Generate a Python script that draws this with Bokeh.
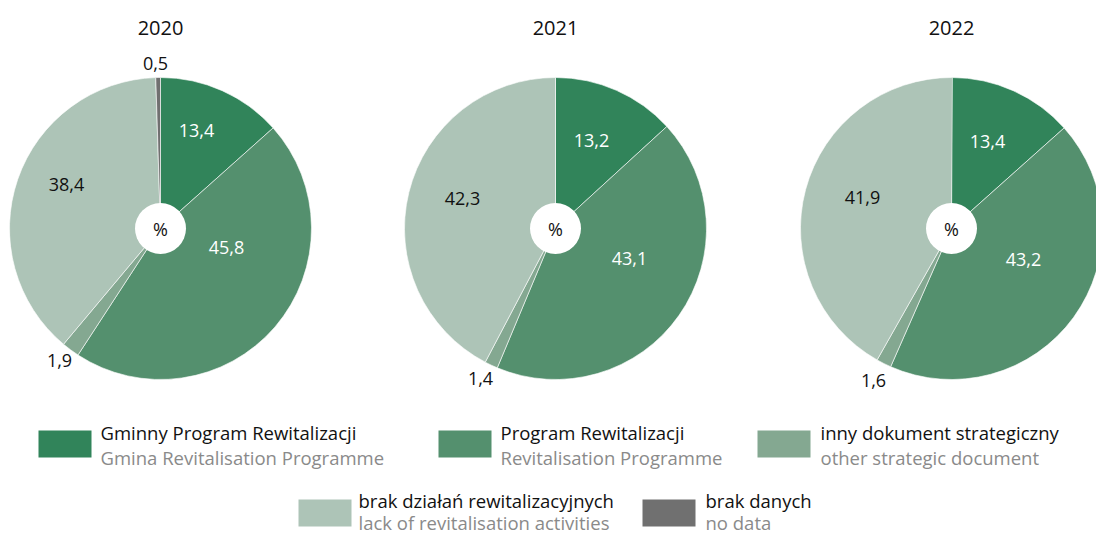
import math
from bokeh.plotting import figure
from bokeh.models import Range1d, ColumnDataSource
from bokeh.core.properties import value
from bokeh.embed import file_html
from bokeh.resources import INLINE

# ---------------- data ----------------
years = ["2020", "2021", "2022"]
categories_pl = ["Gminny Program Rewitalizacji", "Program Rewitalizacji",
                 "inny dokument strategiczny", "brak działań rewitalizacyjnych",
                 "brak danych"]
categories_en = ["Gmina Revitalisation Programme", "Revitalisation Programme",
                 "other strategic document", "lack of revitalisation activities",
                 "no data"]
values_2020 = [13.4, 45.8, 1.9, 38.4, 0.5]
values_2021 = [13.2, 43.1, 1.4, 42.3, 0.0]
values_2022 = [13.4, 43.2, 1.6, 41.9, 0.0]
series = [values_2020, values_2021, values_2022]

# ---------------- styles / layout ----------------
colors = ["#31845A", "#54906E", "#84A891", "#ADC4B7", "#707070"]
label_colors = ["white", "white", "#111111", "#111111", "#111111"]
FONT = value("Open Sans")
W, H = 1096, 534
centers_x = [160, 555, 951]
center_y = 228
R = 151
R_HOLE = 25.5
# label offsets (px, image coords) relative to pie centre, per year per category
label_offsets = [
    [(36, -98), (66, 19), (-101, 132), (-94, -44), (-5, -165)],
    [(36, -88), (74, 30), (-75, 150), (-93, -30), None],
    [(36, -87), (72, 31), (-78, 152), (-89, -31), None],
]

legend_items = [  # (swatch left, swatch top, text x, line1 y, line2 y)
    (38, 430, 100, 432, 457),
    (438, 430, 500, 432, 457),
    (757, 430, 820, 432, 457),
    (298, 499, 358, 500, 522),
    (642, 499, 705, 500, 522),
]
SW_W, SW_H = 53, 27


def Y(img_y):
    return -img_y


p = figure(width=W, height=H, output_backend="svg", toolbar_location=None,
           x_range=Range1d(0, W), y_range=Range1d(-H, 0),
           min_border=0, outline_line_color=None, background_fill_color="white")
p.axis.visible = False
p.grid.visible = False

for yi, (yr, vals) in enumerate(zip(years, series)):
    cx = centers_x[yi]
    total = 100.0
    cum = 0.0
    starts, ends, cols = [], [], []
    for v, c in zip(vals, colors):
        if v <= 0:
            continue
        a0 = math.pi / 2 - 2 * math.pi * (cum + v) / total
        a1 = math.pi / 2 - 2 * math.pi * cum / total
        starts.append(a0)
        ends.append(a1)
        cols.append(c)
        cum += v
    src = ColumnDataSource(dict(x=[cx] * len(starts), y=[Y(center_y)] * len(starts),
                                start=starts, end=ends, color=cols))
    p.wedge(x="x", y="y", radius=R, start_angle="start", end_angle="end",
            fill_color="color", line_color="white", line_width=0.6, source=src)
    p.circle(x=[cx], y=[Y(center_y)], radius=R_HOLE, fill_color="white", line_color=None)
    p.text(x=[cx], y=[Y(center_y)], text=["%"], text_align="center", text_baseline="middle",
           text_font=FONT, text_font_size="18px", text_color="#111111")
    # title
    p.text(x=[cx], y=[Y(27)], text=[yr], text_align="center", text_baseline="middle",
           text_font=FONT, text_font_size="20px", text_color="#111111")
    # value labels
    lx, ly, lt, lc = [], [], [], []
    for k, v in enumerate(vals):
        off = label_offsets[yi][k]
        if v <= 0 or off is None:
            continue
        lx.append(cx + off[0])
        ly.append(Y(center_y + off[1]))
        lt.append(f"{v:.1f}".replace(".", ","))
        lc.append(label_colors[k])
    p.text(x=lx, y=ly, text=lt, text_color=lc, text_align="center", text_baseline="middle",
           text_font=FONT, text_font_size="18px")

# legend
for (sx, sy, tx, l1, l2), c, pl, en in zip(legend_items, colors, categories_pl, categories_en):
    p.rect(x=[sx + SW_W / 2], y=[Y(sy + SW_H / 2)], width=SW_W, height=SW_H,
           fill_color=c, line_color=None)
    p.text(x=[tx], y=[Y(l1)], text=[pl], text_align="left", text_baseline="middle",
           text_font=FONT, text_font_size="18.5px", text_color="#111111")
    p.text(x=[tx], y=[Y(l2)], text=[en], text_align="left", text_baseline="middle",
           text_font=FONT, text_font_size="18.5px", text_color="#8a8a8a")

open("out.html", "w").write(file_html(p, INLINE))
